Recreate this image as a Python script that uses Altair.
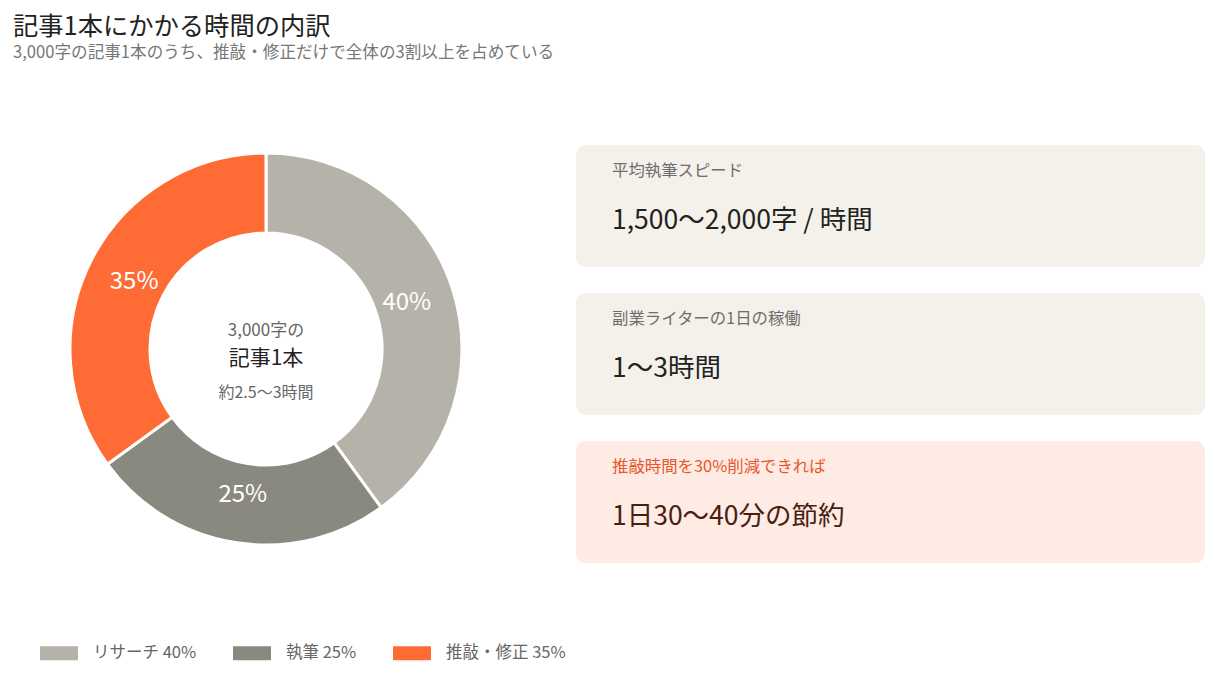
import altair as alt
import pandas as pd

FONT = "Noto Sans CJK JP"

# ---- data ----
categories = ["リサーチ", "執筆", "推敲・修正"]
shares = [40, 25, 35]
slice_colors = ["#B5B2A9", "#8A8980", "#FF6B35"]

center_lines = ["3,000字の", "記事1本", "約2.5〜3時間"]

card_labels = ["平均執筆スピード", "副業ライターの1日の稼働", "推敲時間を30%削減できれば"]
card_values = ["1,500〜2,000字 / 時間", "1〜3時間", "1日30〜40分の節約"]

title_text = "記事1本にかかる時間の内訳"
subtitle_text = "3,000字の記事1本のうち、推敲・修正だけで全体の3割以上を占めている"

# ---- tables ----
donut_df = pd.DataFrame({
    "cat": categories,
    "share": shares,
    "order": list(range(len(categories))),
    "pct": [f"{s}%" for s in shares],
    "legend": [f"{c} {s}%" for c, s in zip(categories, shares)],
})
legend_labels = list(donut_df["legend"])
center_df = pd.DataFrame({"line": center_lines, "idx": list(range(len(center_lines)))})
cards_df = pd.DataFrame({"label": card_labels, "value": card_values,
                         "idx": list(range(len(card_labels)))})

# ---- donut ----
base = alt.Chart(donut_df).encode(
    theta=alt.Theta("share:Q", stack=True),
    order=alt.Order("order:Q"),
)
arcs = base.mark_arc(outerRadius=196, innerRadius=116, stroke="white", strokeWidth=3).encode(
    color=alt.Color(
        "legend:N", sort=legend_labels,
        scale=alt.Scale(domain=legend_labels, range=slice_colors),
        legend=alt.Legend(
            title=None, orient="none", direction="horizontal",
            legendX=27, legendY=489,
            symbolType="M-1,-0.37H1V0.37H-1Z", symbolSize=1444,
            symbolStrokeWidth=0, symbolOpacity=1,
            labelFont=FONT, labelFontSize=16.5, labelColor="#666666",
            labelOffset=15, columnPadding=36,
        ),
    )
)
slice_labels = base.mark_text(radius=148, font=FONT, fontSize=24, color="white").encode(
    text="pct:N", detail="cat:N"
)


def center_line(i, size, color, dy):
    return alt.Chart(center_df).transform_filter(alt.datum.idx == i).mark_text(
        font=FONT, fontSize=size, color=color, dy=dy, baseline="middle"
    ).encode(text="line:N")


donut = alt.layer(
    arcs, slice_labels,
    center_line(0, 17, "#666666", -18),
    center_line(1, 21, "#222222", 10),
    center_line(2, 16, "#666666", 44),
).properties(width=506, height=408)

# ---- cards ----
ycards = alt.Y("label:N", sort=card_labels, axis=None,
               scale=alt.Scale(type="band", paddingInner=26 / 148, paddingOuter=0))
hl = alt.datum.idx == 2
card_bg = alt.Chart(cards_df).mark_rect(cornerRadius=10).encode(
    y=ycards,
    color=alt.condition(hl, alt.value("#FDEBE4"), alt.value("#F4F1EA")),
)
card_lab = alt.Chart(cards_df).mark_text(
    align="left", baseline="middle", x=36, dy=-35, font=FONT, fontSize=16.4
).encode(
    y=ycards, text="label:N",
    color=alt.condition(hl, alt.value("#E8582B"), alt.value("#6E6E6E")),
)
card_val = alt.Chart(cards_df).mark_text(
    align="left", baseline="middle", x=36, dy=15, font=FONT, fontSize=26.5
).encode(
    y=ycards, text="value:N",
    color=alt.condition(hl, alt.value("#4A1D12"), alt.value("#222222")),
)
cards = alt.layer(card_bg, card_lab, card_val).properties(width=629, height=418)

chart = alt.hconcat(donut, cards, spacing=57).properties(
    title=alt.TitleParams(
        text=title_text, subtitle=subtitle_text, anchor="start",
        font=FONT, fontSize=25.3, fontWeight="normal", color="#222222",
        subtitleFont=FONT, subtitleFontSize=16.6, subtitleColor="#777777",
        subtitlePadding=5, offset=83,
    ),
    padding={"left": 5, "top": 7, "right": 5, "bottom": 2},
).configure_view(stroke=None)

chart.save("out.html", embed_options={"renderer": "svg", "actions": False})
